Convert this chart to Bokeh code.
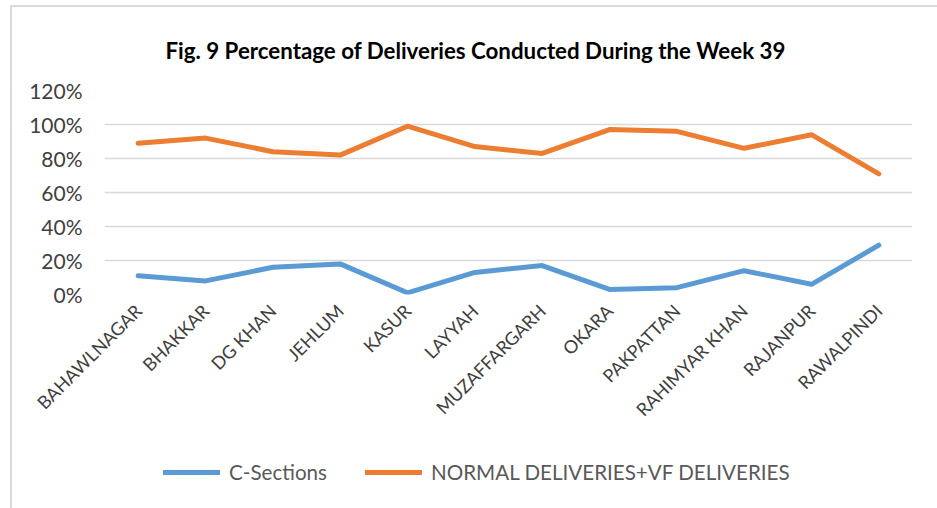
import math
from bokeh.plotting import figure
from bokeh.layouts import column
from bokeh.models import (FactorRange, Range1d, NumeralTickFormatter, FixedTicker,
                          Legend, LegendItem, Title)
from bokeh.embed import file_html
from bokeh.resources import INLINE

districts = ["BAHAWLNAGAR", "BHAKKAR", "DG KHAN", "JEHLUM", "KASUR", "LAYYAH",
             "MUZAFFARGARH", "OKARA", "PAKPATTAN", "RAHIMYAR KHAN", "RAJANPUR", "RAWALPINDI"]
c_sections = [0.11, 0.08, 0.16, 0.18, 0.01, 0.13, 0.17, 0.03, 0.04, 0.14, 0.06, 0.29]
normal_vf = [0.89, 0.92, 0.84, 0.82, 0.99, 0.87, 0.83, 0.97, 0.96, 0.86, 0.94, 0.71]
y_ticks = [0, 0.2, 0.4, 0.6, 0.8, 1.0, 1.2]
series_names = ["C-Sections", "NORMAL DELIVERIES+VF DELIVERIES"]
colors = ["#5B9BD5", "#ED7D31"]

FONT = "Lato"

p = figure(x_range=FactorRange(*districts, range_padding=0),
           y_range=Range1d(0, 1.2),
           width=925, height=433, output_backend="svg", toolbar_location=None,
           min_border_left=92, min_border_right=25, min_border_top=81, min_border_bottom=146)
p.outline_line_color = None
p.background_fill_color = "white"
p.border_fill_color = "white"

title = Title(text="Fig. 9 Percentage of Deliveries Conducted During the Week 39",
              align="left", offset=61, standoff=54,
              text_font=FONT, text_font_size="22.3px", text_font_style="bold",
              text_color="#000000")
p.add_layout(title, "above")

p.line(districts, c_sections, line_color=colors[0], line_width=5,
       line_cap="round", line_join="round")
p.line(districts, normal_vf, line_color=colors[1], line_width=5,
       line_cap="round", line_join="round")

p.xgrid.grid_line_color = None
p.ygrid.grid_line_color = "#D9D9D9"
p.ygrid.grid_line_width = 1.3
p.yaxis.ticker = FixedTicker(ticks=y_ticks)
p.yaxis.formatter = NumeralTickFormatter(format="0%")

for ax in (p.xaxis[0], p.yaxis[0]):
    ax.axis_line_color = None
    ax.major_tick_line_color = None
    ax.minor_tick_line_color = None
    ax.major_tick_out = 0
    ax.major_tick_in = 0
    ax.major_label_text_font = FONT
    ax.major_label_text_color = "#404040"

p.yaxis.major_label_text_font_size = "21px"
p.yaxis.major_label_standoff = 22
p.xaxis.major_label_text_font_size = "18px"
p.xaxis.major_label_orientation = math.pi / 4
p.xaxis.major_label_standoff = 13

# legend in its own strip below the chart (the swatch lines lie outside its view)
lp = figure(x_range=Range1d(0, 1), y_range=Range1d(0, 1), width=925, height=68,
            output_backend="svg", toolbar_location=None,
            x_axis_type=None, y_axis_type=None,
            min_border_left=0, min_border_right=0, min_border_top=0, min_border_bottom=0)
lp.outline_line_color = None
lp.grid.grid_line_color = None
lp.border_fill_color = "white"
lr = [lp.line([5, 6], [5, 6], line_color=c, line_width=5, line_cap="round") for c in colors]

legend = Legend(items=[LegendItem(label=n, renderers=[r]) for n, r in zip(series_names, lr)],
                orientation="horizontal", location=(59, 24),
                glyph_width=57, glyph_height=18, label_standoff=9, spacing=38,
                label_text_font=FONT, label_text_font_size="20.6px",
                label_text_color="#595959", border_line_color=None,
                background_fill_alpha=0, margin=0, padding=0)
lp.add_layout(legend, "center")

layout = column(p, lp, spacing=0)
layout.styles = {"margin-left": "10px", "margin-top": "5px",
                 "border-left": "2px solid #D9D9D9", "border-top": "2px solid #D9D9D9"}

open("out.html", "w").write(file_html(layout, INLINE))
